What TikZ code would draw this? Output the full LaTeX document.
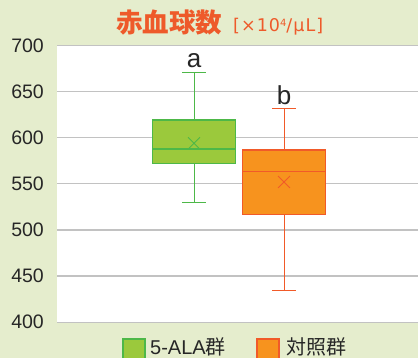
\documentclass[tikz,border=0pt]{standalone}
\usepackage{fontspec}
\setmainfont{Liberation Sans}
\newfontfamily\cjk{Noto Sans CJK JP}
\newfontfamily\unitfont{DejaVu Sans}
\usetikzlibrary{shapes.misc}

\definecolor{bgGreen}{HTML}{E5EDCD}
\definecolor{gridGray}{HTML}{C2C2C2}
\definecolor{titleRed}{HTML}{EE5A2A}
\definecolor{alaFill}{HTML}{9BC93C}
\definecolor{alaLine}{HTML}{4DB848}
\definecolor{ctrlFill}{HTML}{F7931E}
\definecolor{ctrlLine}{HTML}{F15A29}

\tikzset{
  grid line/.style={draw=gridGray,line width=1.4pt},
  tick label/.style={anchor=east,inner sep=0pt,text=black!85,font=\fontsize{19.5}{20}\selectfont},
  whisker/.style={line width=1pt},
  boxbody/.style={line width=1.4pt},
  mean mark/.style={cross out,draw,minimum size=11pt,inner sep=0pt,line width=.9pt},
  group letter/.style={anchor=base,inner sep=0pt,text=black!85,font=\fontsize{26}{26}\selectfont},
  legend text/.style={anchor=base west,inner sep=0pt,text=black!85,font=\fontsize{20}{20}\selectfont}
}

\begin{document}
\begin{tikzpicture}[x=1pt,y=1pt]
  \useasboundingbox (0,0) rectangle (418,358);
  \clip (0,0) rectangle (418,358);
  \fill[bgGreen] (0,0) rectangle (418,358);
  % Titel
  \node[anchor=base west,inner sep=0pt,text=titleRed,font=\cjk\bfseries\fontsize{26.5}{27}\selectfont] (title) at (116,325) {赤血球数};
  \node[anchor=base west,inner sep=0pt,text=titleRed,font=\unitfont\fontsize{17.5}{17.5}\selectfont\addfontfeatures{LetterSpace=6}] (unit) at (233,326.5) {[×10\raisebox{.55ex}{\fontsize{10}{10}\selectfont 4}/μL]};
  % Plotbereich (y in Datenwerten)
  \begin{scope}[y=0.9233pt,yshift=-333.6pt]
    \fill[white] (57,400) rectangle (420,700);
    \foreach \v in {400,450,...,700} {
      \draw[grid line] (57,\v) -- (420,\v);
      \node[tick label] (t\v) at (44,\v) {\v};
    }
    % 5-ALA
    \draw[alaLine,whisker] (194,529.5) -- (194,572) (194,619) -- (194,670.8);
    \draw[alaLine,whisker] (182,529.5) -- (206,529.5) (182,670.8) -- (206,670.8);
    \filldraw[fill=alaFill,draw=alaLine,boxbody] (152.3,572) rectangle (235.3,619);
    \draw[alaLine,boxbody] (152.3,587.7) -- (235.3,587.7);
    \node[mean mark,draw=alaLine] (meanA) at (194,594) {};
    \node[group letter] (labA) at (194,670.8) [yshift=5pt] {a};
    % Kontrolle
    \draw[ctrlLine,whisker] (284,434) -- (284,517) (284,586.6) -- (284,631.8);
    \draw[ctrlLine,whisker] (272,434) -- (296,434) (272,631.8) -- (296,631.8);
    \filldraw[fill=ctrlFill,draw=ctrlLine,boxbody] (242.7,517) rectangle (325.3,586.6);
    \draw[ctrlLine,boxbody] (242.7,563.5) -- (325.3,563.5);
    \node[mean mark,draw=ctrlLine] (meanB) at (284,552) {};
    \node[group letter] (labB) at (284,631.8) [yshift=3.5pt] {b};
  \end{scope}
  % Legende
  \filldraw[fill=alaFill,draw=alaLine,boxbody] (123,-3) rectangle (145,19);
  \node[legend text] (legA) at (150,3) {5-ALA{\cjk 群}};
  \filldraw[fill=ctrlFill,draw=ctrlLine,boxbody] (257,-3) rectangle (279,19);
  \node[legend text] (legB) at (286,3) {\cjk 対照群};
\end{tikzpicture}
\end{document}
